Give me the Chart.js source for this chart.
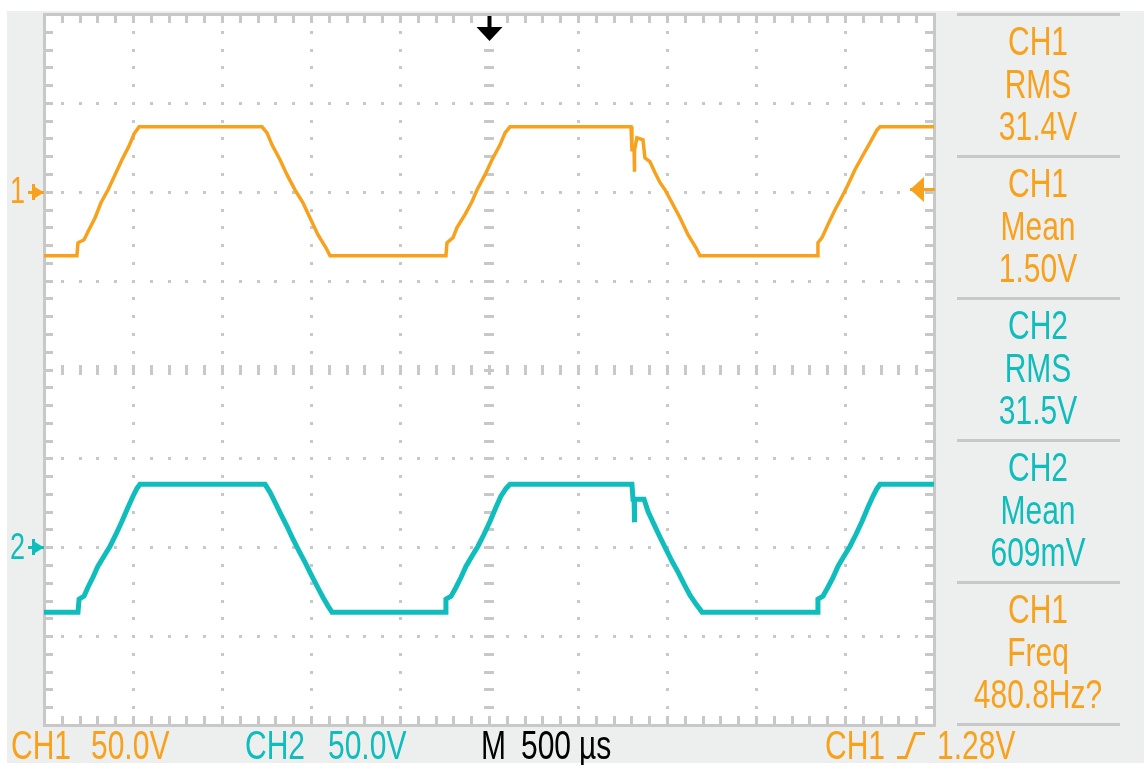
<!DOCTYPE html>
<html>
<head>
<meta charset="utf-8">
<script src="https://cdn.jsdelivr.net/npm/chart.js@4.4.1/dist/chart.umd.min.js"></script>
<style>
  html, body { margin: 0; padding: 0; background: #fff; }
  body { width: 1144px; height: 765px; position: relative; overflow: hidden; font-family: "Liberation Sans", Arial, sans-serif; }
  #panel { position: absolute; left: 7px; top: 11px; width: 1137px; height: 752px; background: #edefee; }
  #scope { position: absolute; left: 0; top: 0; width: 1144px; height: 765px; }
  .lbl { position: absolute; top: 725px; font-size: 40px; line-height: 40px; white-space: nowrap; transform: scaleX(0.75); transform-origin: 0 0; }
  .side { position: absolute; left: 938px; width: 200px; text-align: center; font-size: 40px; line-height: 40px; white-space: nowrap; transform: scaleX(0.75); transform-origin: 100px 0; }
  .sep { position: absolute; left: 957px; width: 163px; height: 3px; background: #c8c8c8; }
  .gnd { position: absolute; left: 10px; font-size: 36px; line-height: 36px; transform: scaleX(0.75); transform-origin: 0 0; }
  .ch1 { color: #f8a11d; }
  .ch2 { color: #0fbdbd; }
  .blk { color: #000; }
</style>
</head>
<body>
<div id="panel"></div>
<canvas id="scope" width="1144" height="765"></canvas>
<div id="side"></div>

<span class="lbl ch1" style="left:11px">CH1</span>
<span class="lbl ch1" style="left:91px">50.0V</span>
<span class="lbl ch2" style="left:245px">CH2</span>
<span class="lbl ch2" style="left:328px">50.0V</span>
<span class="lbl blk" style="left:481px">M</span>
<span class="lbl blk" style="left:521px">500</span>
<span class="lbl blk" style="left:579px">µs</span>
<span class="lbl ch1" style="left:825px">CH1</span>
<span class="lbl ch1" style="left:937px">1.28V</span>

<script>
// Scope settings
const timePerDiv = 500;   // µs
const voltsPerDiv = 50;   // V
const triggerLevel = 1.28;

// CH1 trace (time µs from trigger, volts)
const ch1Time = [-2500, -2315, -2309, -2275, -2253, -2213, -2180, -2140, -2101, -2062, -2022, -1994, -1966,
  -1275, -1247, -1219, -1174, -1135, -1090, -1045, -1006, -961, -916, -893,
  -242, -236, -202, -180, -135, -96, -67, -22, 17, 62, 90, 118,
  798, 803, 815, 815, 820, 831, 865, 876, 904, 933, 961, 989, 1028, 1073, 1118, 1163, 1185,
  1843, 1848, 1871, 1904, 1944, 1983, 2017, 2056, 2096, 2140, 2180, 2197, 2500];
const ch1Volt = [-36.0, -36.0, -28.7, -27.0, -22.5, -14.6, -6.2, 1.1, 9.6, 18.0, 25.8, 32.6, 36.5,
  36.5, 33.1, 26.4, 18.0, 9.6, 1.1, -6.2, -14.6, -24.2, -31.5, -36.0,
  -36.0, -28.7, -25.8, -20.2, -12.9, -5.6, 1.1, 9.6, 18.0, 26.4, 33.1, 36.5,
  36.5, 23.6, 23.6, 11.2, 23.6, 30.3, 29.2, 19.1, 16.9, 10.7, 5.1, 1.1, -6.2, -14.6, -24.2, -31.5, -36.0,
  -36.0, -28.7, -25.8, -18.5, -10.1, -2.8, 3.9, 12.4, 19.7, 27.5, 34.8, 36.5, 36.5];

// CH2 trace
const ch2Time = [-2500, -2309, -2303, -2275, -2253, -2225, -2197, -2163, -2129, -2096, -2062, -2028, -2000, -1978, -1961,
  -1258, -1230, -1202, -1169, -1135, -1101, -1067, -1034, -1000, -966, -933, -904, -882,
  -247, -242, -213, -185, -157, -129, -96, -62, -28, 6, 39, 67, 96, 118,
  803, 809, 815, 815, 820, 871, 893, 927, 961, 994, 1028, 1062, 1096, 1129, 1163, 1197,
  1843, 1848, 1876, 1904, 1933, 1961, 1994, 2028, 2062, 2096, 2129, 2157, 2180, 2197, 2500];
const ch2Volt = [-36.5, -36.5, -29.2, -27.5, -22.5, -16.9, -10.7, -5.1, 0.6, 7.3, 14.6, 22.5, 28.7, 33.1, 35.4,
  35.4, 30.9, 25.3, 18.5, 11.8, 4.5, -2.2, -8.4, -15.2, -21.9, -28.1, -33.1, -36.5,
  -36.5, -29.2, -27.5, -22.5, -16.9, -10.7, -5.1, 0.6, 7.3, 14.6, 22.5, 28.7, 33.1, 35.4,
  35.4, 27.0, 27.0, 14.0, 27.0, 27.0, 20.2, 12.9, 5.6, -1.1, -7.9, -14.0, -20.8, -27.0, -32.0, -36.5,
  -36.5, -29.2, -27.5, -22.5, -16.9, -10.7, -5.1, 0.6, 7.3, 14.6, 22.5, 28.7, 33.1, 35.4, 35.4];

// Measurement panel
const sideLabels = [['CH1', 'RMS', '31.4V'], ['CH1', 'Mean', '1.50V'], ['CH2', 'RMS', '31.5V'],
  ['CH2', 'Mean', '609mV'], ['CH1', 'Freq', '480.8Hz?']];
const sideChannel = ['ch1', 'ch1', 'ch2', 'ch2', 'ch1'];

const CH1_COLOR = '#f8a11d';
const CH2_COLOR = '#0fbdbd';
const GRID = '#c8c8c8';

// side panel text + separators
const side = document.getElementById('side');
for (let k = 0; k <= sideLabels.length; k++) {
  side.insertAdjacentHTML('beforeend', `<div class="sep" style="top:${13 + 142 * k}px"></div>`);
}
sideLabels.forEach((lines, s) => {
  lines.forEach((txt, l) => {
    const baseline = 14.5 + 142 * s + 40.5 + 42.5 * l;
    side.insertAdjacentHTML('beforeend',
      `<div class="side ${sideChannel[s]}" style="top:${baseline - 33.9}px">${txt}</div>`);
  });
});

const scopeGrid = {
  id: 'scopeGrid',
  beforeDatasetsDraw(chart) {
    const { ctx, chartArea: a, scales } = chart;
    ctx.save();
    ctx.fillStyle = '#fff';
    ctx.fillRect(a.left, a.top, a.right - a.left, a.bottom - a.top);

    const xDiv = [], yDiv = [];
    for (let i = 0; i <= 10; i++) xDiv.push(scales.x.getPixelForValue(scales.x.min + i * timePerDiv));
    for (let j = 0; j <= 8; j++) yDiv.push(scales.y1.getPixelForValue(scales.y1.max - j * voltsPerDiv));
    const xStep = (xDiv[10] - xDiv[0]) / 50;
    const yStep = (yDiv[8] - yDiv[0]) / 40;
    const r = v => Math.round(v);

    ctx.fillStyle = GRID;
    // vertical dotted lines (center one gets dashes)
    for (let i = 1; i < 10; i++) {
      for (let k = 1; k < 40; k++) {
        const y = r(yDiv[0] + k * yStep);
        if (i === 5) ctx.fillRect(r(xDiv[i]) - 5, y - 1, 10, 3);
        else ctx.fillRect(r(xDiv[i]) - 1, y - 1, 3, 3);
      }
    }
    // horizontal dotted lines
    for (let j = 1; j < 8; j++) {
      for (let k = 1; k < 50; k++) {
        const x = r(xDiv[0] + k * xStep);
        if (j === 4) ctx.fillRect(x - 1, r(yDiv[j]) - 5, 3, 10);
        else ctx.fillRect(x - 1, r(yDiv[j]) - 1, 3, 3);
      }
    }
    // border ticks
    for (let k = 1; k < 50; k++) {
      const x = r(xDiv[0] + k * xStep);
      ctx.fillRect(x - 1, r(a.top), 3, 9);
      ctx.fillRect(x - 1, r(a.bottom) - 9, 3, 9);
    }
    for (let k = 1; k < 40; k++) {
      const y = r(yDiv[0] + k * yStep);
      ctx.fillRect(r(a.left), y - 1, 9, 3);
      ctx.fillRect(r(a.right) - 9, y - 1, 9, 3);
    }
    ctx.strokeStyle = GRID;
    ctx.lineWidth = 3;
    ctx.strokeRect(a.left + 0.5, a.top + 0.5, a.right - a.left, a.bottom - a.top);
    ctx.restore();
  }
};

const scopeMarks = {
  id: 'scopeMarks',
  afterDraw(chart) {
    const { ctx, chartArea: a, scales } = chart;
    ctx.save();
    // trigger position arrow (top)
    const tx = Math.round(scales.x.getPixelForValue(0)) + 0.5;
    ctx.fillStyle = '#000';
    ctx.fillRect(tx - 2, a.top + 2, 4, 15);
    ctx.beginPath();
    ctx.moveTo(tx - 13, a.top + 13);
    ctx.lineTo(tx + 13, a.top + 13);
    ctx.lineTo(tx, a.top + 27);
    ctx.closePath();
    ctx.fill();

    // trigger level arrow (right)
    const ty = Math.round(scales.y1.getPixelForValue(triggerLevel));
    ctx.fillStyle = CH1_COLOR;
    ctx.fillRect(a.right - 24, ty - 1, 25, 3);
    ctx.beginPath();
    ctx.moveTo(a.right - 24, ty + 0.5);
    ctx.lineTo(a.right - 10, ty - 12);
    ctx.lineTo(a.right - 10, ty + 13);
    ctx.closePath();
    ctx.fill();

    // channel ground arrows (left)
    [[scales.y1, CH1_COLOR], [scales.y2, CH2_COLOR]].forEach(([sc, col]) => {
      const gy = Math.round(sc.getPixelForValue(0));
      ctx.fillStyle = col;
      ctx.fillRect(28, gy - 1, 16, 3);
      ctx.fillRect(32, gy - 8, 3, 16);
      ctx.beginPath();
      ctx.moveTo(35, gy - 5);
      ctx.lineTo(44, gy + 0.5);
      ctx.lineTo(35, gy + 6);
      ctx.closePath();
      ctx.fill();
    });

    // rising edge trigger symbol in status bar
    ctx.strokeStyle = CH1_COLOR;
    ctx.lineWidth = 3;
    ctx.beginPath();
    ctx.moveTo(897, 757.5);
    ctx.lineTo(906, 757.5);
    ctx.lineTo(915, 733.5);
    ctx.lineTo(925, 733.5);
    ctx.stroke();
    ctx.restore();
  }
};

const scopeChart = new Chart(document.getElementById('scope').getContext('2d'), {
  type: 'line',
  data: {
    datasets: [
      {
        label: 'CH1',
        data: ch1Time.map((t, i) => ({ x: t, y: ch1Volt[i] })),
        yAxisID: 'y1',
        borderColor: CH1_COLOR,
        borderWidth: 3.5,
        pointRadius: 0,
        tension: 0,
        fill: false
      },
      {
        label: 'CH2',
        data: ch2Time.map((t, i) => ({ x: t, y: ch2Volt[i] })),
        yAxisID: 'y2',
        borderColor: CH2_COLOR,
        borderWidth: 5,
        pointRadius: 0,
        tension: 0,
        fill: false
      }
    ]
  },
  options: {
    responsive: false,
    animation: false,
    events: [],
    layout: { padding: { left: 44, top: 14, right: 210, bottom: 40 } },
    scales: {
      x: { type: 'linear', min: -5 * timePerDiv, max: 5 * timePerDiv, display: false },
      // CH1 ground sits 2 div above center, CH2 ground 2 div below
      y1: { type: 'linear', min: -6 * voltsPerDiv, max: 2 * voltsPerDiv, display: false },
      y2: { type: 'linear', min: -2 * voltsPerDiv, max: 6 * voltsPerDiv, display: false }
    },
    plugins: { legend: { display: false }, tooltip: { enabled: false } }
  },
  plugins: [scopeGrid, scopeMarks]
});

// channel number next to ground markers
[['1', 'y1', 'ch1'], ['2', 'y2', 'ch2']].forEach(([num, axis, cls]) => {
  const gy = scopeChart.scales[axis].getPixelForValue(0);
  document.body.insertAdjacentHTML('beforeend',
    `<div class="gnd ${cls}" style="top:${gy + 12 - 30.5}px">${num}</div>`);
});
</script>
</body>
</html>
